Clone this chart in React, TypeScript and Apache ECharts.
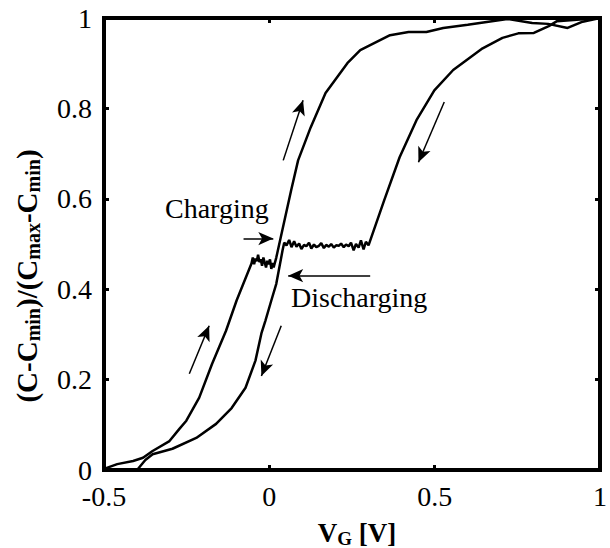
import React, { useEffect, useRef } from "react";
import * as echarts from "echarts";

// Charging sweep (V_G increasing)
const chargeVg = [
  -0.502, -0.46, -0.412, -0.382, -0.353, -0.302, -0.272, -0.251, -0.212, -0.173, -0.131, -0.099, -0.054,
  -0.05, -0.046, -0.042, -0.038, -0.034, -0.03, -0.026, -0.022, -0.018, -0.014, -0.01, -0.006, -0.002, 0.002, 0.006, 0.01, 0.013,
  0.021, 0.066, 0.087, 0.125, 0.17, 0.236, 0.275, 0.365, 0.421, 0.475, 0.526, 0.6, 0.72, 0.795, 0.843, 0.902, 0.944, 1.0,
];
const chargeC = [
  0.002, 0.013, 0.02, 0.027, 0.042, 0.064, 0.091, 0.109, 0.16, 0.235, 0.308, 0.375, 0.457,
  0.47, 0.455, 0.468, 0.462, 0.476, 0.46, 0.466, 0.452, 0.47, 0.459, 0.448, 0.463, 0.455, 0.466, 0.445, 0.458, 0.448,
  0.47, 0.619, 0.685, 0.758, 0.834, 0.9, 0.929, 0.962, 0.969, 0.969, 0.978, 0.985, 0.998, 0.989, 0.987, 0.978, 0.991, 1.0,
];

// Discharging sweep (V_G decreasing)
const dischargeVg = [
  1.0, 0.93, 0.87, 0.845, 0.8, 0.753, 0.705, 0.645, 0.556, 0.499, 0.445, 0.394, 0.347,
  0.3, 0.292, 0.285, 0.277, 0.27, 0.262, 0.255, 0.247, 0.24, 0.232, 0.225, 0.217, 0.21, 0.202, 0.195, 0.187,
  0.18, 0.172, 0.165, 0.157, 0.15, 0.142, 0.135, 0.127, 0.12, 0.112, 0.105, 0.097, 0.09, 0.082, 0.075, 0.067,
  0.06, 0.052, 0.045,
  0.04, 0.021, 0.006, -0.012, -0.024, -0.042, -0.072, -0.114, -0.161, -0.221, -0.293, -0.353, -0.375, -0.4,
];
const dischargeC = [
  1.0, 0.996, 0.993, 0.982, 0.967, 0.966, 0.956, 0.933, 0.885, 0.84, 0.774, 0.692, 0.596,
  0.497, 0.505, 0.488, 0.508, 0.492, 0.5, 0.486, 0.503, 0.495, 0.499, 0.493, 0.501, 0.496, 0.497, 0.492, 0.5,
  0.494, 0.498, 0.491, 0.502, 0.496, 0.493, 0.499, 0.49, 0.503, 0.495, 0.498, 0.489, 0.501, 0.494, 0.506, 0.493,
  0.509, 0.497, 0.503,
  0.486, 0.412, 0.375, 0.33, 0.302, 0.242, 0.182, 0.137, 0.102, 0.071, 0.047, 0.035, 0.022, 0.0,
];

// Direction arrows: [tailVg, tailC, tipVg, tipC]
const arrows = [
  [0.042, 0.685, 0.102, 0.818],
  [0.529, 0.814, 0.451, 0.681],
  [-0.242, 0.213, -0.182, 0.319],
  [0.036, 0.319, -0.024, 0.208],
  [-0.078, 0.512, 0.012, 0.512],
  [0.305, 0.43, 0.057, 0.43],
];

const xTicks = { min: -0.5, max: 1, interval: 0.5 };
const yTicks = { min: 0, max: 1, interval: 0.2 };

const FONT = "Liberation Serif";

export default function App() {
  const ref = useRef<HTMLDivElement>(null);
  useEffect(() => {
    if (!ref.current) return;
    const chart = echarts.init(ref.current, null, { renderer: "svg" });
    const zip = (a: number[], b: number[]) => a.map((v, i) => [v, b[i]]);
    const tickStyle = { show: true, inside: true, length: 5, lineStyle: { color: "#000", width: 3 } };
    const labelStyle = { color: "#000", fontSize: 28, fontFamily: FONT, margin: 12 };
    const noLine = { show: false, onZero: false };
    chart.setOption({
      animation: false,
      backgroundColor: "#fff",
      grid: { left: 104, right: 5, top: 18, bottom: 78, show: true, borderColor: "#000", borderWidth: 4, backgroundColor: "transparent" },
      xAxis: [
        { type: "value", position: "bottom", ...xTicks, axisLine: noLine, axisTick: tickStyle, axisLabel: labelStyle, splitLine: { show: false } },
        { type: "value", position: "top", ...xTicks, axisLine: noLine, axisTick: tickStyle, axisLabel: { show: false }, splitLine: { show: false } },
      ],
      yAxis: [
        { type: "value", position: "left", ...yTicks, axisLine: noLine, axisTick: tickStyle, axisLabel: labelStyle, splitLine: { show: false } },
        { type: "value", position: "right", ...yTicks, axisLine: noLine, axisTick: tickStyle, axisLabel: { show: false }, splitLine: { show: false } },
      ],
      series: [
        {
          type: "line",
          data: zip(chargeVg, chargeC),
          showSymbol: false,
          lineStyle: { color: "#000", width: 2.5 },
          markLine: {
            silent: true,
            symbol: ["none", "arrow"],
            symbolSize: [10, 15],
            label: { show: false },
            lineStyle: { color: "#000", width: 1.5, type: "solid" },
            data: arrows.map((a) => [{ coord: [a[0], a[1]] }, { coord: [a[2], a[3]] }]),
          },
        },
        {
          type: "line",
          data: zip(dischargeVg, dischargeC),
          showSymbol: false,
          lineStyle: { color: "#000", width: 2.5 },
        },
      ],
      graphic: [
        {
          type: "text",
          x: 165,
          y: 208,
          style: { text: "Charging", fontSize: 28, fontFamily: FONT, fill: "#000", align: "left", verticalAlign: "middle" },
        },
        {
          type: "text",
          x: 291,
          y: 297,
          style: { text: "Discharging", fontSize: 28, fontFamily: FONT, fill: "#000", align: "left", verticalAlign: "middle" },
        },
        {
          type: "text",
          x: 357,
          y: 533,
          style: {
            text: "{b|V}{s|G}{b| [V]}",
            align: "center",
            verticalAlign: "middle",
            rich: {
              b: { fontSize: 27, fontWeight: "bold", fontFamily: FONT, fill: "#000", lineHeight: 30 },
              s: { fontSize: 19, fontWeight: "bold", fontFamily: FONT, fill: "#000", lineHeight: 14, verticalAlign: "bottom" },
            },
          },
        },
        {
          type: "text",
          x: 27,
          y: 276,
          rotation: Math.PI / 2,
          style: {
            text: "{b|(C-C}{s|min}{b|)/(C}{s|max}{b|-C}{s|min}{b|)}",
            align: "center",
            verticalAlign: "middle",
            rich: {
              b: { fontSize: 29, fontWeight: "bold", fontFamily: FONT, fill: "#000", lineHeight: 32 },
              s: { fontSize: 20, fontWeight: "bold", fontFamily: FONT, fill: "#000", lineHeight: 15, verticalAlign: "bottom" },
            },
          },
        },
      ],
    });
    return () => chart.dispose();
  }, []);
  return <div ref={ref} style={{ width: 610, height: 548, position: "absolute", left: 0, top: 0 }} />;
}
